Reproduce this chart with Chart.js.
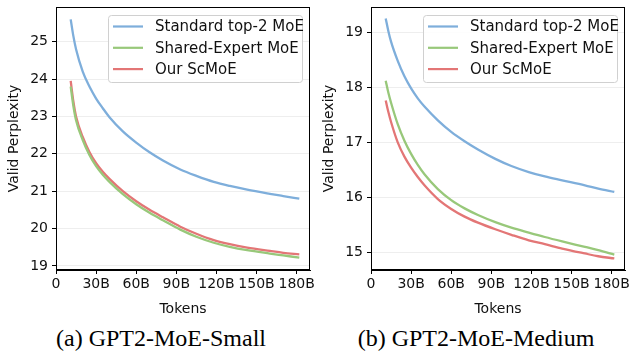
<!DOCTYPE html>
<html>
<head>
<meta charset="utf-8">
<script src="https://cdn.jsdelivr.net/npm/chart.js@4.4.1/dist/chart.umd.min.js"></script>
<style>
  body { margin: 0; background: #fff; width: 629px; height: 354px; position: relative; overflow: hidden; }
  .panel { position: absolute; top: 0; }
  .caption { position: absolute; top: 325px; font-family: "Liberation Serif", "Times New Roman", serif; font-size: 24px; color: #000; text-align: center; white-space: nowrap; }
</style>
</head>
<body>
<div class="panel" style="left:0;width:315px;height:322px"><canvas id="small"></canvas></div>
<div class="panel" style="left:315px;width:314px;height:322px"><canvas id="medium"></canvas></div>
<div class="caption" style="left:0;width:322px">(a) GPT2-MoE-Small</div>
<div class="caption" style="left:316px;width:320px">(b) GPT2-MoE-Medium</div>
<script>
// tokens seen (billions)
const tokens = [11, 13, 15, 20, 25, 30, 35, 40, 50, 60, 70, 80, 93, 105, 118, 130, 143, 160, 170, 182];

// GPT2-MoE-Small valid perplexity
const smallStandard = [25.6, 25.15, 24.8, 24.2, 23.8, 23.48, 23.22, 22.98, 22.6, 22.3, 22.04, 21.82, 21.58, 21.41, 21.25, 21.14, 21.04, 20.93, 20.87, 20.8];
const smallShared   = [23.8, 23.28, 22.9, 22.37, 21.97, 21.67, 21.44, 21.25, 20.92, 20.65, 20.42, 20.22, 19.97, 19.78, 19.62, 19.51, 19.42, 19.33, 19.28, 19.22];
const smallOurs     = [23.95, 23.4, 23.0, 22.45, 22.05, 21.75, 21.52, 21.33, 21.0, 20.73, 20.5, 20.3, 20.05, 19.86, 19.69, 19.58, 19.49, 19.4, 19.35, 19.31];

// GPT2-MoE-Medium valid perplexity
const mediumStandard = [19.25, 19.02, 18.83, 18.48, 18.2, 17.98, 17.8, 17.65, 17.4, 17.19, 17.02, 16.87, 16.7, 16.57, 16.46, 16.38, 16.31, 16.22, 16.16, 16.1];
const mediumShared   = [18.12, 17.9, 17.72, 17.33, 17.03, 16.79, 16.59, 16.42, 16.15, 15.95, 15.8, 15.68, 15.55, 15.45, 15.36, 15.28, 15.2, 15.1, 15.04, 14.96];
const mediumOurs     = [17.76, 17.55, 17.37, 17.0, 16.74, 16.54, 16.37, 16.22, 15.97, 15.79, 15.65, 15.54, 15.42, 15.32, 15.22, 15.15, 15.07, 14.98, 14.93, 14.89];

const seriesNames = ["Standard top-2 MoE", "Shared-Expert MoE", "Our ScMoE"];
const seriesColors = ["#7eaedb", "#98c87a", "#e37676"];

const xTickValues = [0, 30, 60, 90, 120, 150, 180];
const xTickLabels = ["0", "30B", "60B", "90B", "120B", "150B", "180B"];
const smallYTicks = [19, 20, 21, 22, 23, 24, 25];
const mediumYTicks = [15, 16, 17, 18, 19];

const FONT = "'DejaVu Sans', sans-serif";

function noPad(axis) {
  axis.paddingTop = 0;
  axis.paddingBottom = 0;
  axis.paddingLeft = 0;
  axis.paddingRight = 0;
}

// legend box drawn inside the plot, top right
const insideLegend = {
  id: "insideLegend",
  afterDraw(chart) {
    const { ctx, chartArea } = chart;
    const o = chart.options.plugins.insideLegend;
    ctx.save();
    // frame round the plot
    ctx.strokeStyle = "#000";
    ctx.lineWidth = 1;
    ctx.strokeRect(chartArea.left + 0.5, chartArea.top + 0.5,
      chartArea.right - chartArea.left - 1, chartArea.bottom - chartArea.top - 1);
    // legend box
    const x = o.left, y = 15, w = o.width, h = 67;
    ctx.fillStyle = "rgba(255,255,255,0.85)";
    ctx.strokeStyle = "#d0d0d0";
    ctx.beginPath();
    ctx.roundRect(x + 0.5, y + 0.5, w, h, 3);
    ctx.fill();
    ctx.stroke();
    ctx.font = "15px " + FONT;
    ctx.textBaseline = "middle";
    chart.data.datasets.forEach((ds, i) => {
      const ly = y + 11.5 + i * 21.3;
      ctx.strokeStyle = ds.borderColor;
      ctx.lineWidth = 2.2;
      ctx.beginPath();
      ctx.moveTo(x + 5, ly);
      ctx.lineTo(x + 35, ly);
      ctx.stroke();
      ctx.fillStyle = "#111";
      ctx.fillText(ds.label, x + 47, ly + 1);
    });
    ctx.restore();
  }
};

function makeChart(id, series, yMin, yMax, yTicks, rightPad) {
  return new Chart(document.getElementById(id), {
    type: "line",
    data: {
      datasets: series.map((vals, i) => ({
        label: seriesNames[i],
        data: tokens.map((t, j) => ({ x: t, y: vals[j] })),
        borderColor: seriesColors[i],
        borderWidth: 2.3,
        pointRadius: 0,
        cubicInterpolationMode: "monotone",
        fill: false
      }))
    },
    options: {
      responsive: true,
      maintainAspectRatio: false,
      animation: false,
      layout: { padding: { top: 7, right: rightPad, left: 0, bottom: 0 } },
      plugins: {
        legend: { display: false },
        tooltip: { enabled: false },
        insideLegend: { left: 108, width: 194 }
      },
      scales: {
        x: {
          type: "linear",
          min: 0,
          max: 190,
          afterBuildTicks: (axis) => { axis.ticks = xTickValues.map(v => ({ value: v })); },
          afterFit: (axis) => { axis.height = 52; noPad(axis); },
          ticks: {
            color: "#111",
            font: { family: FONT, size: 14 },
            padding: 2,
            maxRotation: 0,
            autoSkip: false,
            callback: (v) => xTickLabels[xTickValues.indexOf(v)]
          },
          grid: { drawOnChartArea: false, tickLength: 4, tickColor: "#000" },
          border: { color: "#000" },
          title: { display: true, text: "Tokens", color: "#111", font: { family: FONT, size: 14 }, padding: { top: 0 } }
        },
        y: {
          min: yMin,
          max: yMax,
          afterBuildTicks: (axis) => { axis.ticks = yTicks.map(v => ({ value: v })); },
          afterFit: (axis) => { axis.width = 56; noPad(axis); },
          ticks: {
            color: "#111",
            font: { family: FONT, size: 14 },
            padding: 4
          },
          grid: { color: "#eeeeee", tickLength: 4, tickColor: "#000" },
          border: { color: "#000" },
          title: { display: true, text: "Valid Perplexity", color: "#111", font: { family: FONT, size: 14 }, padding: { top: 6, bottom: 2 } }
        }
      }
    },
    plugins: [insideLegend]
  });
}

makeChart("small", [smallStandard, smallShared, smallOurs], 18.89, 25.93, smallYTicks, 5);
makeChart("medium", [mediumStandard, mediumShared, mediumOurs], 14.68, 19.46, mediumYTicks, 4);
</script>
</body>
</html>
